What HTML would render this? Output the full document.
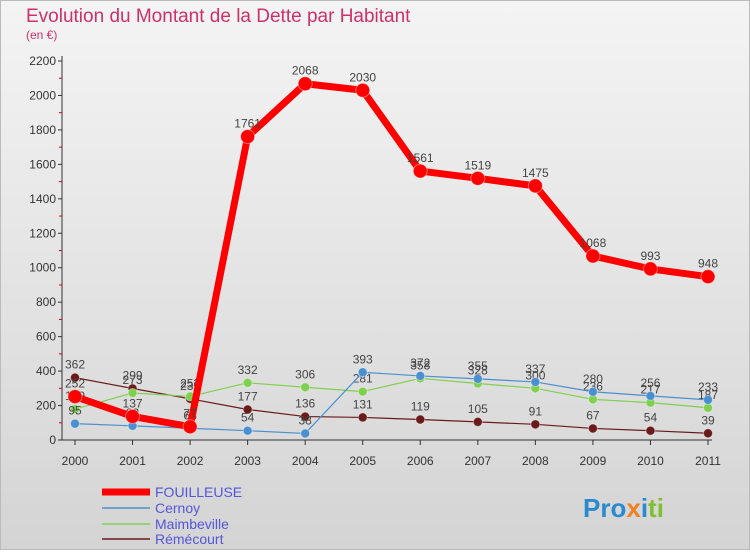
<!DOCTYPE html>
<html><head><meta charset="utf-8"><style>
body{margin:0;width:750px;height:550px;overflow:hidden;font-family:"Liberation Sans",sans-serif}
</style></head><body>
<svg width="750" height="550" xmlns="http://www.w3.org/2000/svg">
<defs><linearGradient id="bg" x1="0" y1="0" x2="0" y2="1"><stop offset="0" stop-color="#f4f4f4"/><stop offset="1" stop-color="#d4d4d4"/></linearGradient></defs>
<rect width="750" height="550" fill="url(#bg)"/>
<rect x="0.5" y="0.5" width="749" height="549" fill="none" stroke="#bbb"/>
<text x="26" y="22" font-size="19" fill="#d0306a">Evolution du Montant de la Dette par Habitant</text>
<text x="26" y="39" font-size="12" fill="#d0306a">(en €)</text>
<g id="axes"></g><g id="plot"></g>
<g>
<line x1="102" y1="492" x2="150" y2="492" stroke="#f00" stroke-width="7"/>
<text x="155" y="497" font-size="14" fill="#5555dd">FOUILLEUSE</text>
<line x1="102" y1="508" x2="150" y2="508" stroke="#4a90d0" stroke-width="1.5"/>
<text x="155" y="513" font-size="14" fill="#5555dd">Cernoy</text>
<line x1="102" y1="524" x2="150" y2="524" stroke="#80d050" stroke-width="1.5"/>
<text x="155" y="529" font-size="14" fill="#5555dd">Maimbeville</text>
<line x1="102" y1="539" x2="150" y2="539" stroke="#6a1a1a" stroke-width="1.5"/>
<text x="155" y="544" font-size="14" fill="#5555dd">Rémécourt</text>
</g>
<text x="583" y="517" font-size="26" font-weight="bold"><tspan fill="#2a8ad0">Pro</tspan><tspan fill="#f08020">x</tspan><tspan fill="#2a8ad0">i</tspan><tspan fill="#80c030">ti</tspan></text>
</svg>
<script>
const years=[2000,2001,2002,2003,2004,2005,2006,2007,2008,2009,2010,2011];
const yTicks=[0,200,400,600,800,1000,1200,1400,1600,1800,2000,2200];
const fouilleuse=[252,137,77,1761,2068,2030,1561,1519,1475,1068,993,948];
const cernoy=[95,82,68,54,38,393,372,355,337,280,256,233];
const maimbeville=[179,273,253,332,306,281,358,328,300,236,217,187];
const remecourt=[362,299,239,177,136,131,119,105,91,67,54,39];
const NS="http://www.w3.org/2000/svg";
const X=i=>75+i*(708-75)/11, Y=v=>440-v*(440-61)/2200;
function mk(t,a,p){const e=document.createElementNS(NS,t);for(const k in a)e.setAttribute(k,a[k]);p.appendChild(e);return e;}
const ax=document.getElementById('axes'),pl=document.getElementById('plot');
mk('line',{x1:62,y1:56,x2:62,y2:440,stroke:'#333'},ax);
mk('line',{x1:62,y1:440,x2:712,y2:440,stroke:'#333'},ax);
yTicks.forEach(v=>{mk('line',{x1:58,y1:Y(v),x2:62,y2:Y(v),stroke:'#333'},ax);
 if(v<2200)mk('line',{x1:59,y1:Y(v+100),x2:62,y2:Y(v+100),stroke:'#d00'},ax);
 const t=mk('text',{x:56,y:Y(v)+4,'font-size':12,'text-anchor':'end',fill:'#333'},ax);t.textContent=v;
 });
years.forEach((y,i)=>{mk('line',{x1:X(i),y1:440,x2:X(i),y2:445,stroke:'#333'},ax);
 const t=mk('text',{x:X(i),y:465,'font-size':12,'text-anchor':'middle',fill:'#333'},ax);t.textContent=y;
 });
function series(d,c,w,r,name){const g=mk('g',{},pl);
 
 mk('polyline',{points:d.map((v,i)=>X(i)+','+Y(v)).join(' '),fill:'none',stroke:c,'stroke-width':w,'stroke-linejoin':'round'},g);
 d.forEach((v,i)=>{const p=mk('circle',{cx:X(i),cy:Y(v),r:r,fill:c,stroke:'#fff','stroke-opacity':0.4},g);
  
  const t=mk('text',{x:X(i),y:Y(v)-9,'font-size':12,'text-anchor':'middle',fill:'#444'},g);t.textContent=v;
  });}
series(remecourt,'#6a1a1a',1.2,4.5,'remecourt-line');
series(maimbeville,'#80d050',1.2,4.5,'maimbeville-line');
series(cernoy,'#4a90d0',1.2,4.5,'cernoy-line');
series(fouilleuse,'#f00',7,7,'fouilleuse-line');
</script>
</body></html>
